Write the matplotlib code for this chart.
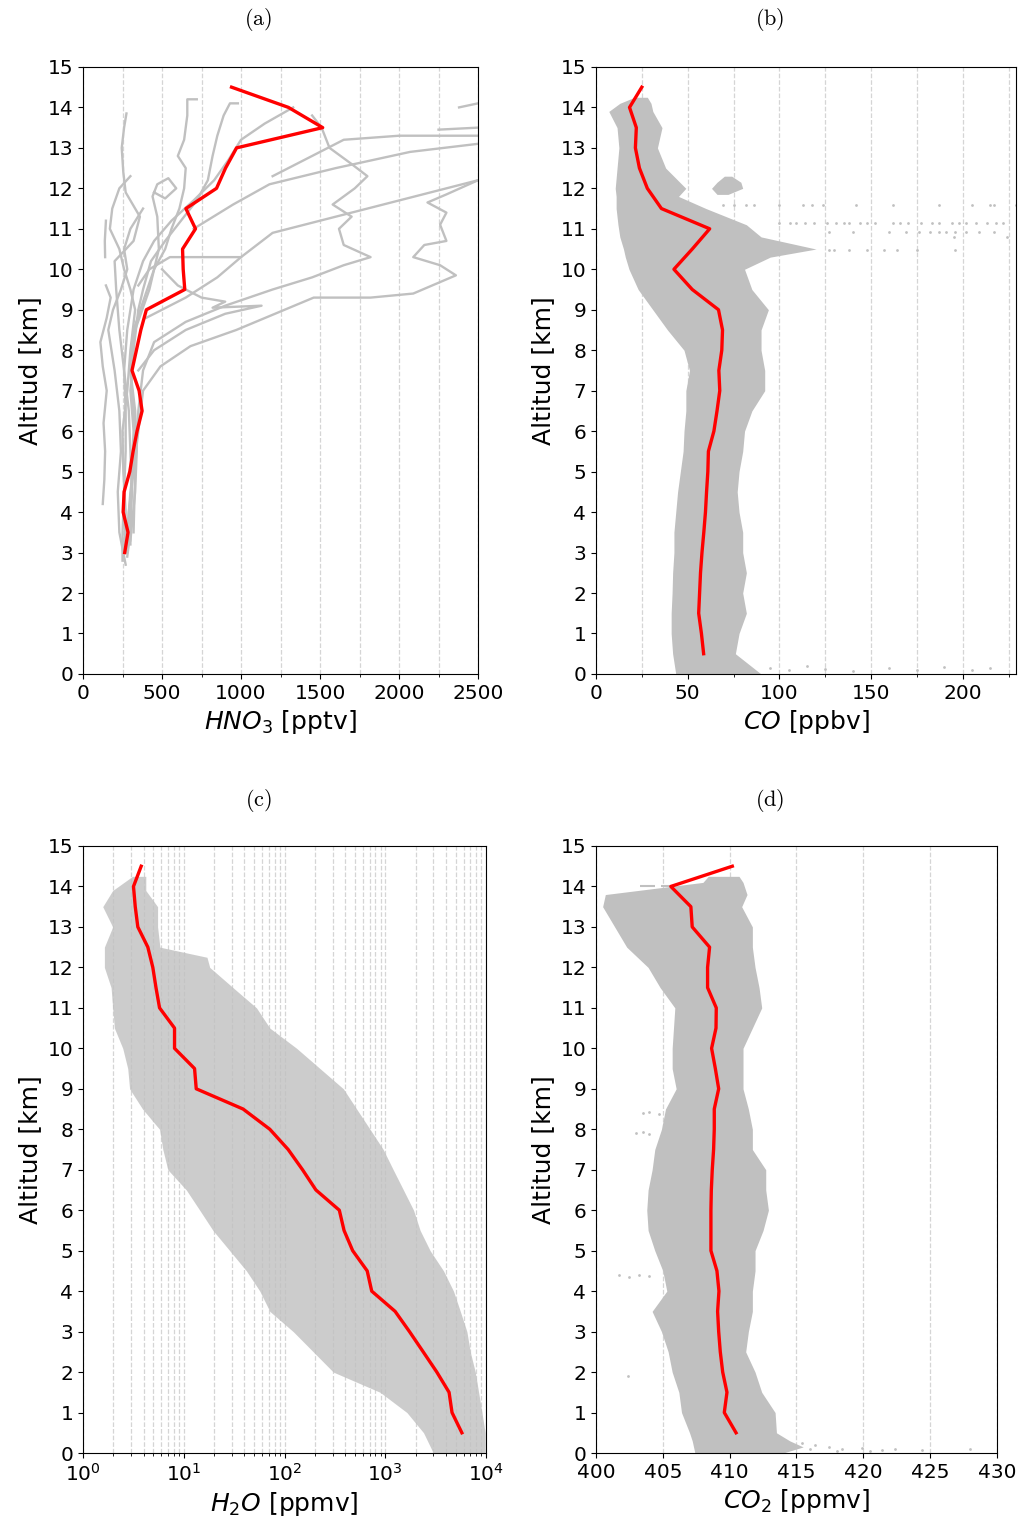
import matplotlib
matplotlib.use('Agg')
import matplotlib.pyplot as plt
from matplotlib.ticker import MultipleLocator

# ---- median profiles (red) ----
hno3_alt = [3.0, 3.5, 4.0, 4.5, 5.0, 5.5, 6.0, 6.5, 7.0, 7.5, 8.0, 8.5, 9.0, 9.5,
            10.0, 10.5, 11.0, 11.5, 12.0, 12.5, 13.0, 13.5, 14.0, 14.5]
hno3_med = [264, 285, 254, 260, 296, 317, 342, 374, 355, 310, 338, 366, 401, 644,
            634, 630, 712, 651, 845, 902, 972, 1517, 1300, 940]

med_alt = [0.5, 1.0, 1.5, 2.0, 2.5, 3.0, 3.5, 4.0, 4.5, 5.0, 5.5, 6.0, 6.5, 7.0, 7.5,
           8.0, 8.5, 9.0, 9.5, 10.0, 10.5, 11.0, 11.5, 12.0, 12.5, 13.0, 13.5, 14.0, 14.5]
co_med = [58.7, 57.5, 56, 56.5, 57, 57.8, 58.8, 59.7, 60.3, 61, 61.3, 64.3, 66, 67.5, 67,
          68.6, 69, 66.8, 52.5, 42.5, 52.5, 62, 35.7, 28, 23.7, 21.5, 22, 18.3, 25]
h2o_med = [5760, 4600, 4300, 3250, 2380, 1740, 1253, 734, 662, 475, 390, 350, 205, 151, 108.7,
           71.5, 38.8, 13.3, 12.8, 8.1, 8.1, 5.75, 5.3, 4.93, 4.4, 3.5, 3.3, 3.17, 3.78]
co2_med = [410.48, 409.6, 409.8, 409.48, 409.3, 409.18, 409.1, 409.2, 409.05, 408.6, 408.6,
           408.6, 408.63, 408.7, 408.8, 408.85, 408.85, 409.18, 408.93, 408.65, 408.98,
           409.0, 408.35, 408.35, 408.5, 407.2, 407.1, 405.6, 410.2]

# ---- HNO3 individual flights (gray) ----
hno3_profiles = [
    ([4.2, 4.8, 5.5, 6.2, 7.0, 7.6, 8.2, 8.8, 9.3, 9.6],
     [125, 135, 140, 130, 150, 125, 110, 150, 175, 145]),
    ([10.3, 10.7, 11.2], [140, 138, 145]),
    ([2.9, 3.5, 4.5, 5.5, 6.5, 7.5, 8.5, 9.5, 10.2, 10.7, 11.3, 11.9, 12.4, 13.0, 13.5, 13.85],
     [280, 300, 310, 300, 290, 260, 230, 210, 200, 320, 360, 270, 255, 245, 260, 275]),
    ([3.0, 4.0, 5.0, 6.0, 7.0, 8.0, 9.0, 9.5, 10.0, 10.5, 11.0, 11.5, 12.0, 12.3],
     [260, 270, 255, 250, 280, 300, 330, 300, 260, 230, 170, 185, 230, 300]),
    ([3.3, 4.5, 5.5, 6.5, 7.5, 8.5, 9.5, 10.5, 11.3, 11.8, 12.1, 12.25, 12.0, 11.75, 11.9],
     [300, 330, 340, 330, 300, 330, 420, 480, 470, 440, 470, 540, 590, 520, 450]),
    ([3.5, 4.5, 5.5, 6.5, 7.5, 8.5, 9.2, 10.0, 10.5, 11.0, 11.5, 12.0, 12.5, 12.8, 13.2, 13.8, 14.2, 14.2],
     [280, 300, 330, 320, 300, 320, 380, 450, 520, 560, 610, 640, 650, 600, 640, 660, 660, 720]),
    ([3.2, 4.0, 5.0, 6.0, 7.0, 8.0, 9.0, 9.5, 10.2, 10.7, 11.2, 11.7, 12.2, 12.8, 13.3, 13.8, 14.1, 14.1],
     [300, 300, 310, 320, 300, 320, 350, 380, 430, 520, 620, 720, 790, 820, 850, 890, 930, 980]),
    ([2.8, 3.5, 4.5, 5.5, 6.5, 7.5, 8.5, 9.5, 10.2, 10.7, 11.2, 11.7, 12.2, 12.7, 13.2, 13.6, 14.0],
     [250, 250, 260, 270, 270, 260, 280, 320, 380, 450, 560, 700, 830, 920, 1000, 1150, 1330]),
    ([3.0, 4.0, 5.0, 6.0, 7.0, 7.6, 8.1, 8.5, 9.3, 9.3, 9.4, 9.85, 10.1, 10.3, 10.6, 10.7, 11.1, 11.4, 11.65, 11.85, 12.2],
     [280, 290, 320, 350, 380, 490, 680, 970, 1460, 1820, 2090, 2360, 2260, 2090, 2160, 2300, 2260, 2300, 2180, 2300, 2500]),
    ([3.5, 5.0, 6.5, 7.5, 8.2, 8.7, 9.1, 9.5, 9.8, 10.1, 10.3, 10.6, 11.0, 11.3, 11.6, 12.0, 12.3, 12.6, 13.0, 13.5, 13.8],
     [320, 330, 350, 380, 450, 650, 900, 1200, 1450, 1650, 1820, 1650, 1620, 1700, 1580, 1720, 1800, 1700, 1560, 1510, 1450]),
    ([8.8, 9.3, 9.8, 10.3, 10.9, 11.3, 11.6, 11.9, 12.2],
     [400, 650, 850, 1000, 1200, 1600, 1900, 2200, 2500]),
    ([11.0, 11.6, 12.1, 12.5, 12.9, 13.1], [700, 950, 1180, 1600, 2070, 2500]),
    ([12.3, 12.8, 13.2, 13.3, 13.3], [1200, 1450, 1650, 2000, 2500]),
    ([13.45, 13.5], [2250, 2500]),
    ([14.0, 14.1], [2380, 2500]),
    ([7.5, 8.0, 8.5, 8.9, 9.1, 9.05, 9.2, 9.3, 9.6, 10.0],
     [350, 450, 650, 900, 1130, 820, 900, 750, 600, 500]),
    ([2.7, 3.5, 4.5, 5.5, 6.5, 7.5, 8.5, 9.0, 9.5, 10.0, 10.5, 11.0, 11.5],
     [270, 230, 220, 240, 230, 200, 160, 190, 240, 280, 260, 300, 380]),
    ([9.6, 10.0, 10.3, 10.3], [350, 420, 550, 1000]),
]

# ---- CO cloud envelope ----
co_env_alt = [0.0, 0.5, 1.0, 1.5, 2.0, 2.5, 3.0, 3.5, 4.0, 4.5, 5.0, 5.5, 6.0, 6.5, 7.0, 7.5, 8.0,
              8.5, 9.0, 9.5, 10.0, 10.3, 10.5, 10.8, 11.1, 11.5, 11.8, 12.0, 12.5, 13.0, 13.5,
              13.9, 14.1, 14.25]
co_env_lo = [43.5, 41.8, 41, 41, 41.5, 41.8, 42.5, 42.5, 43.5, 44.5, 46, 47.5, 48, 49, 49, 51, 48,
             39, 31, 23, 18, 16, 15, 13, 12, 11, 11, 10.5, 11.5, 12.5, 11.5, 7, 13, 21]
co_env_hi = [90, 76, 78, 82, 80, 82, 80, 80, 78, 77, 78, 80, 81, 85, 92, 92, 90, 90, 94, 85, 81,
             95, 120, 90, 82, 60, 45, 49, 38, 33.5, 36, 31, 30, 28]
co_blob_alt = [11.85, 12.0, 12.15, 12.3]
co_blob_lo = [66, 63, 66, 70]
co_blob_hi = [72, 80, 79, 74]
co_dot_val = [69, 75, 82, 86, 100, 113, 118, 124, 142, 162, 187, 205, 215, 217, 229,
              100, 106, 109, 114, 119, 126, 131, 135, 138, 144, 148, 152, 162, 166, 170,
              177, 183, 187, 194, 198, 202, 207, 213, 218, 222,
              127, 140, 160, 169, 176, 182, 187, 191, 196, 202, 209, 217, 195, 224,
              127, 130, 138, 148, 157, 164, 175, 196,
              95, 105, 115, 125, 140, 160, 175, 190, 205, 215]
co_dot_alt = [11.6] * 15 + [11.14] * 25 + [10.93] * 12 + [10.8] * 2 + [10.48] * 8 + \
             [0.15, 0.1, 0.2, 0.12, 0.08, 0.15, 0.1, 0.18, 0.1, 0.14]

# ---- H2O cloud envelope ----
h2o_env_alt = [0.0, 0.5, 1.0, 1.5, 2.0, 2.5, 3.0, 3.5, 4.0, 4.5, 5.0, 5.5, 6.0, 6.5, 7.0, 7.5, 8.0,
               8.5, 9.0, 9.5, 10.0, 10.5, 11.0, 11.5, 12.0, 12.25, 12.5, 13.0, 13.5, 13.9, 14.25]
h2o_env_lo = [3000, 2400, 1640, 890, 305, 193, 122, 71.5, 56.9, 41.9, 28.6, 19.5, 14.4, 10.6, 6.95,
              6.2, 5.75, 3.9, 2.9, 2.78, 2.48, 2.05, 1.97, 1.9, 1.63, 1.63, 1.63, 1.97, 1.57, 1.97, 3.1]
h2o_env_hi = [9800, 9800, 9120, 8450, 7830, 6980, 6460, 5560, 4760, 3790, 2790, 2220, 1910, 1515,
              1200, 955, 706, 520, 384, 225, 132, 71.5, 52.7, 30.8, 18.1, 17, 5.8, 5.5, 5.5, 4.2, 4.2]

# ---- CO2 cloud envelope ----
co2_env_alt = [0.0, 0.15, 0.3, 0.5, 1.0, 1.5, 2.0, 2.5, 3.0, 3.5, 4.0, 4.5, 5.0, 5.5, 6.0, 6.5, 7.0,
               7.5, 8.0, 8.5, 9.0, 9.5, 10.0, 10.5, 11.0, 11.5, 12.0, 12.5, 13.0, 13.5, 13.8, 14.1, 14.25]
co2_env_lo = [407.4, 407.3, 407.2, 407.0, 406.4, 406.2, 405.7, 405.4, 404.9, 404.2, 405.3, 405.0,
              404.4, 403.9, 403.8, 403.9, 404.2, 404.4, 404.9, 405.2, 406.0, 405.7, 405.7, 405.8,
              405.9, 404.8, 403.9, 402.3, 401.4, 400.5, 400.7, 408.0, 408.4]
co2_env_hi = [414.0, 415.5, 414.5, 413.5, 413.4, 412.4, 411.9, 411.2, 411.4, 411.7, 411.7, 411.9,
              411.9, 412.5, 412.9, 412.7, 412.7, 411.7, 411.7, 411.4, 411.0, 411.0, 411.0, 411.7,
              412.4, 412.2, 411.9, 411.7, 411.7, 410.9, 411.3, 411.0, 410.7]
co2_dot_val = [415.4, 416.4, 417.4, 418.4, 419.9, 421.4, 422.4, 424.4, 428.0, 416.0, 418.0, 420.5,
               401.7, 402.5, 403.2, 404.0, 402.4, 403.5, 404.0, 404.7, 403.0, 403.5, 404.0]
co2_dot_alt = [0.25, 0.2, 0.15, 0.1, 0.12, 0.08, 0.1, 0.07, 0.1, 0.1, 0.05, 0.05,
               4.4, 4.35, 4.4, 4.38, 1.9, 8.4, 8.42, 8.38, 7.9, 7.92, 7.88]
co2_dash_alt = [14.0, 14.0, 13.75]
co2_dash_lo = [403.3, 404.9, 405.2]
co2_dash_hi = [404.4, 405.7, 407.3]

GRAY = '#c0c0c0'
RED = '#ff0000'
GRID = dict(ls='--', color='#d5d5d5', lw=0.9)

fig = plt.figure(figsize=(10.21, 15.21), dpi=100)
ax_a = fig.add_axes([0.0813, 0.5569, 0.3869, 0.3991])
ax_b = fig.add_axes([0.5837, 0.5569, 0.4114, 0.3991])
ax_c = fig.add_axes([0.0813, 0.0447, 0.3947, 0.3991])
ax_d = fig.add_axes([0.5837, 0.0447, 0.3928, 0.3991])

# (a) HNO3
for alts, vals in hno3_profiles:
    ax_a.plot(vals, alts, color=GRAY, lw=1.7, zorder=2)
ax_a.plot(hno3_med, hno3_alt, color=RED, lw=2.4, zorder=3)
ax_a.set_xlim(0, 2500)
ax_a.xaxis.set_major_locator(MultipleLocator(500))
ax_a.xaxis.set_minor_locator(MultipleLocator(250))
ax_a.grid(True, which='both', axis='x', **GRID)
ax_a.set_xlabel(r'$HNO_3$ [pptv]')

# (b) CO
ax_b.fill_betweenx(co_env_alt, co_env_lo, co_env_hi, color=GRAY, lw=0, zorder=2)
ax_b.fill_betweenx(co_blob_alt, co_blob_lo, co_blob_hi, color=GRAY, lw=0, zorder=2)
ax_b.scatter(co_dot_val, co_dot_alt, s=4, color=GRAY, lw=0, zorder=2)
ax_b.plot(co_med, med_alt, color=RED, lw=2.4, zorder=3)
ax_b.set_xlim(0, 229)
ax_b.xaxis.set_major_locator(MultipleLocator(50))
ax_b.xaxis.set_minor_locator(MultipleLocator(25))
ax_b.grid(True, which='both', axis='x', **GRID)
ax_b.set_xlabel(r'$CO$ [ppbv]')

# (c) H2O
ax_c.fill_betweenx(h2o_env_alt, h2o_env_lo, h2o_env_hi, color=GRAY, alpha=0.8, lw=0, zorder=2)
ax_c.plot(h2o_med, med_alt, color=RED, lw=2.4, zorder=3)
ax_c.set_xscale('log')
ax_c.set_xlim(1, 1e4)
ax_c.grid(True, which='both', axis='x', **GRID)
ax_c.set_xlabel(r'$H_2O$ [ppmv]')

# (d) CO2
ax_d.fill_betweenx(co2_env_alt, co2_env_lo, co2_env_hi, color=GRAY, lw=0, zorder=2)
ax_d.scatter(co2_dot_val, co2_dot_alt, s=4, color=GRAY, lw=0, zorder=2)
ax_d.hlines(co2_dash_alt, co2_dash_lo, co2_dash_hi, color=GRAY, lw=1.5, zorder=2)
ax_d.plot(co2_med, med_alt, color=RED, lw=2.4, zorder=3)
ax_d.set_xlim(400, 430)
ax_d.xaxis.set_major_locator(MultipleLocator(5))
ax_d.grid(True, which='major', axis='x', **GRID)
ax_d.set_xlabel(r'$CO_2$ [ppmv]')

for ax in (ax_a, ax_b, ax_c, ax_d):
    ax.set_ylim(0, 15)
    ax.yaxis.set_major_locator(MultipleLocator(1))
    ax.set_ylabel('Altitud [km]', fontsize=18)
    ax.xaxis.label.set_size(18)
    ax.tick_params(labelsize=14.5)

for x, y, s in [(0.2527, 0.9869, '(a)'), (0.7542, 0.9869, '(b)'),
                (0.2527, 0.4740, '(c)'), (0.7542, 0.4740, '(d)')]:
    fig.text(x, y, r'$\mathrm{' + s + '}$', math_fontfamily='cm', fontsize=16,
             ha='center', va='center')

fig.savefig('out.png', dpi=100)
